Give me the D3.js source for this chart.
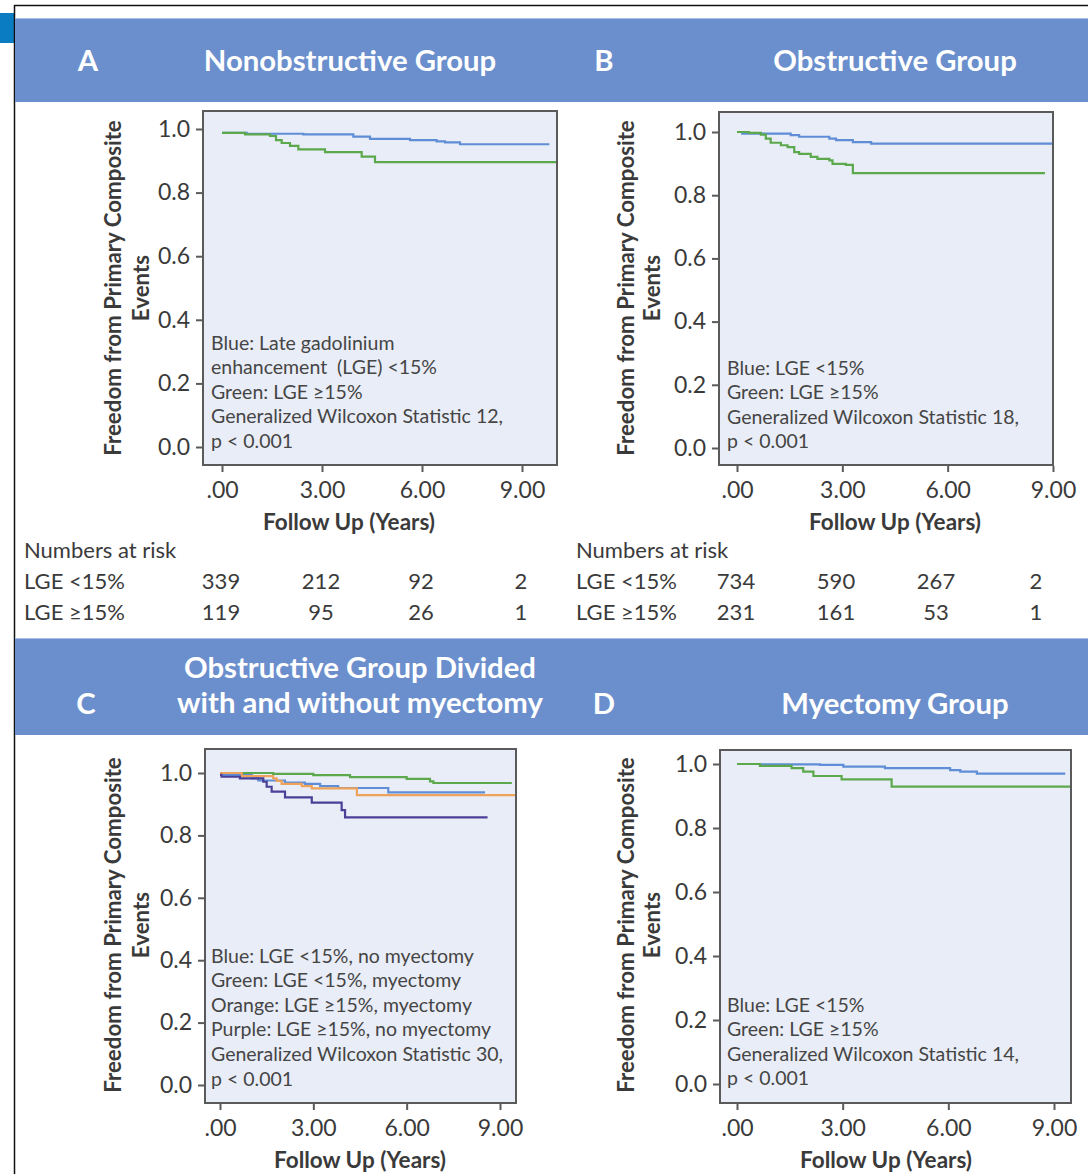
<!DOCTYPE html>
<html>
<head>
<meta charset="utf-8">
<script src="https://cdn.jsdelivr.net/npm/d3@7"></script>
<style>
  html, body { margin: 0; padding: 0; background: #fff; }
  svg { display: block; }
  text { font-family: Lato, "Noto Sans", sans-serif; white-space: pre; }
</style>
</head>
<body>
<svg id="chart" width="1088" height="1174"></svg>
<script>
// ---------------- DATA ----------------
const xTicks = [0, 3, 6, 9];
const yTicks = [0, 0.2, 0.4, 0.6, 0.8, 1.0];

// Panel A: Nonobstructive group
const aBlueT  = [0, 0.74, 2.44, 3.94, 4.44, 5.64, 6.44, 6.69, 7.14, 9.82];
const aBlueS  = [0.988, 0.985, 0.983, 0.976, 0.969, 0.965, 0.961, 0.958, 0.952, 0.952];
const aGreenT = [0, 0.69, 1.44, 1.62, 1.79, 2.04, 2.29, 3.09, 4.19, 4.59, 10.05];
const aGreenS = [0.988, 0.983, 0.978, 0.965, 0.956, 0.947, 0.936, 0.927, 0.913, 0.896, 0.896];

// Panel B: Obstructive group
const bBlueT  = [0, 0.15, 1.53, 1.77, 2.63, 2.82, 3.3, 3.82, 9.0];
const bBlueS  = [1.0, 0.995, 0.99, 0.985, 0.979, 0.974, 0.968, 0.963, 0.963];
const bGreenT = [0, 0.34, 0.68, 0.82, 0.96, 1.25, 1.44, 1.63, 1.77, 2.1, 2.29, 2.63, 2.72, 3.1, 3.3, 8.77];
const bGreenS = [1.0, 0.997, 0.992, 0.979, 0.966, 0.958, 0.952, 0.936, 0.931, 0.921, 0.915, 0.910, 0.899, 0.896, 0.870, 0.870];

// Panel C: Obstructive group with/without myectomy
const cGreenT  = [0, 1.71, 3.0, 4.18, 6.0, 6.75, 6.86, 9.38];
const cGreenS  = [1.0, 0.997, 0.993, 0.987, 0.981, 0.973, 0.968, 0.968];
const cOrangeT = [0, 0.70, 1.71, 1.82, 1.98, 2.63, 2.95, 4.40, 9.5];
const cOrangeS = [1.0, 0.990, 0.983, 0.975, 0.965, 0.958, 0.951, 0.929, 0.929];
const cBlueT   = [0, 0.11, 1.02, 1.23, 2.09, 2.73, 3.22, 3.80, 5.41, 8.52];
const cBlueS   = [1.0, 0.993, 0.983, 0.976, 0.969, 0.965, 0.958, 0.952, 0.938, 0.938];
const cPurpleT = [0, 0.05, 0.64, 1.39, 1.50, 1.66, 2.09, 2.95, 3.91, 4.02, 8.6];
const cPurpleS = [0.994, 0.988, 0.983, 0.972, 0.956, 0.940, 0.922, 0.905, 0.881, 0.858, 0.858];

// Panel D: Myectomy group
const dBlueT  = [0, 0.65, 2.36, 3.02, 4.20, 6.05, 6.34, 6.81, 9.32];
const dBlueS  = [1.0, 0.999, 0.997, 0.992, 0.987, 0.981, 0.976, 0.970, 0.970];
const dGreenT = [0, 0.65, 1.55, 1.88, 2.17, 2.97, 4.39, 9.48];
const dGreenS = [1.0, 0.994, 0.987, 0.976, 0.9625, 0.952, 0.929, 0.929];

// Numbers at risk
const riskLabels = ["LGE <15%", "LGE \u226515%"];
const riskALow  = [339, 212, 92, 2];
const riskAHigh = [119, 95, 26, 1];
const riskBLow  = [734, 590, 267, 2];
const riskBHigh = [231, 161, 53, 1];

// Texts
const headerTop = [
  {letter: "A", title: ["Nonobstructive Group"]},
  {letter: "B", title: ["Obstructive Group"]}
];
const headerBottom = [
  {letter: "C", title: ["Obstructive Group Divided", "with and without myectomy"]},
  {letter: "D", title: ["Myectomy Group"]}
];
const yTitle = ["Freedom from Primary Composite", "Events"];
const xTitle = "Follow Up (Years)";
const noteA = ["Blue: Late gadolinium", "enhancement  (LGE) <15%", "Green: LGE \u226515%", "Generalized Wilcoxon Statistic 12,", "p < 0.001"];
const noteB = ["Blue: LGE <15%", "Green: LGE \u226515%", "Generalized Wilcoxon Statistic 18,", "p < 0.001"];
const noteC = ["Blue: LGE <15%, no myectomy", "Green: LGE <15%, myectomy", "Orange: LGE \u226515%, myectomy", "Purple: LGE \u226515%, no myectomy", "Generalized Wilcoxon Statistic 30,", "p < 0.001"];
const noteD = ["Blue: LGE <15%", "Green: LGE \u226515%", "Generalized Wilcoxon Statistic 14,", "p < 0.001"];

// ---------------- STYLE ----------------
const COL = {
  blue: "#5f8ed6", green: "#5ca84c", orange: "#eea25a", purple: "#4b3f98",
  band: "#6b8fcd", plotBg: "#e9edf7", frame: "#5a5a5a", text: "#3a3a3a"
};

const svg = d3.select("#chart");

// outer frame & marker
svg.append("rect").attr("x", 0).attr("y", 13).attr("width", 14).attr("height", 30).attr("fill", "#0a7dc2");
svg.append("path").attr("d", "M14.5,1174 V5.5 H1088").attr("fill", "none").attr("stroke", "#111").attr("stroke-width", 1.5);

// header bands
function band(y, h) {
  svg.append("rect").attr("x", 15).attr("y", y).attr("width", 1073).attr("height", h).attr("fill", COL.band);
  svg.append("line").attr("x1", 15).attr("x2", 1088).attr("y1", y + 0.5).attr("y2", y + 0.5).attr("stroke", "#a9c0e6").attr("stroke-width", 1);
}
band(18, 84);
band(638, 97);

function headerText(x, y, str) {
  svg.append("text").attr("x", x).attr("y", y).attr("text-anchor", "middle")
    .attr("dominant-baseline", "central").attr("fill", "#fff")
    .attr("font-size", 29.3).attr("font-weight", 700).text(str);
}
headerText(88, 59, headerTop[0].letter);
headerText(350, 59, headerTop[0].title[0]);
headerText(604, 59, headerTop[1].letter);
headerText(895, 59, headerTop[1].title[0]);
headerText(86, 702, headerBottom[0].letter);
headerText(360, 666, headerBottom[0].title[0]);
headerText(360, 701, headerBottom[0].title[1]);
headerText(604, 702, headerBottom[1].letter);
headerText(895, 702, headerBottom[1].title[0]);

// ---------------- PANELS ----------------
const panels = [
  { frame: [203, 111, 557, 465], x0: 222, x9: 522, y0: 447, y1: 129,
    series: [[aBlueT, aBlueS, COL.blue], [aGreenT, aGreenS, COL.green]],
    note: noteA, noteX: 211, noteY: 342, yt: [112, 140], ytC: 288, xtY: 521, xtX: 349 },
  { frame: [719, 112, 1053, 465], x0: 737, x9: 1053, y0: 448, y1: 132,
    series: [[bBlueT, bBlueS, COL.blue], [bGreenT, bGreenS, COL.green]],
    note: noteB, noteX: 727, noteY: 367, yt: [625, 651], ytC: 288, xtY: 521, xtX: 895 },
  { frame: [205, 749, 516, 1103], x0: 220, x9: 500, y0: 1085, y1: 773,
    series: [[cGreenT, cGreenS, COL.green], [cBlueT, cBlueS, COL.blue], [cOrangeT, cOrangeS, COL.orange], [cPurpleT, cPurpleS, COL.purple]],
    note: noteC, noteX: 211, noteY: 955, yt: [112, 140], ytC: 925, xtY: 1159, xtX: 360 },
  { frame: [720, 750, 1071, 1103], x0: 737, x9: 1054, y0: 1084, y1: 764,
    series: [[dBlueT, dBlueS, COL.blue], [dGreenT, dGreenS, COL.green]],
    note: noteD, noteX: 727, noteY: 1004, yt: [625, 651], ytC: 925, xtY: 1159, xtX: 886 }
];

panels.forEach(p => {
  const [fx0, fy0, fx1, fy1] = p.frame;
  const x = d3.scaleLinear().domain([0, 9]).range([p.x0, p.x9]);
  const y = d3.scaleLinear().domain([0, 1]).range([p.y0, p.y1]);
  const g = svg.append("g");

  g.append("rect").attr("x", fx0).attr("y", fy0).attr("width", fx1 - fx0).attr("height", fy1 - fy0)
    .attr("fill", COL.plotBg);

  // curves
  const line = d3.line().x(d => x(d[0])).y(d => y(d[1])).curve(d3.curveStepAfter);
  p.series.forEach(([T, S, c]) => {
    g.append("path").datum(T.map((t, i) => [t, S[i]])).attr("d", line)
      .attr("fill", "none").attr("stroke", c).attr("stroke-width", 2.2);
  });

  g.append("rect").attr("x", fx0).attr("y", fy0).attr("width", fx1 - fx0).attr("height", fy1 - fy0)
    .attr("fill", "none").attr("stroke", COL.frame).attr("stroke-width", 2);

  // axes
  const ya = g.append("g").attr("transform", `translate(${fx0 - 1},0)`)
    .call(d3.axisLeft(y).tickValues(yTicks).tickFormat(d => d.toFixed(1)).tickSize(6).tickPadding(6));
  const xa = g.append("g").attr("transform", `translate(0,${fy1 + 1})`)
    .call(d3.axisBottom(x).tickValues(xTicks).tickFormat(d => d === 0 ? ".00" : d.toFixed(2)).tickSize(6).tickPadding(10));
  [ya, xa].forEach(a => {
    a.select(".domain").remove();
    a.selectAll(".tick line").attr("stroke", COL.frame).attr("stroke-width", 2);
    a.selectAll(".tick text").attr("fill", COL.text).attr("font-size", 23).attr("font-family", "Lato, sans-serif");
  });

  // axis titles
  p.yt.forEach((xx, i) => {
    g.append("text").attr("transform", `translate(${xx},${p.ytC}) rotate(-90)`)
      .attr("text-anchor", "middle").attr("dominant-baseline", "central")
      .attr("fill", COL.text).attr("font-size", 22.3).attr("font-weight", 700).text(yTitle[i]);
  });
  g.append("text").attr("x", p.xtX).attr("y", p.xtY).attr("text-anchor", "middle")
    .attr("dominant-baseline", "central").attr("fill", COL.text)
    .attr("font-size", 22.5).attr("font-weight", 700).text(xTitle);

  // note
  p.note.forEach((s, i) => {
    g.append("text").attr("x", p.noteX).attr("y", p.noteY + i * 24.6).attr("dominant-baseline", "central")
      .attr("fill", "#454545").attr("font-size", 19.5).text(s);
  });
});

// ---------------- NUMBERS AT RISK ----------------
function riskTable(labelX, xr, low, high) {
  const x = d3.scaleLinear().domain([0, 9]).range(xr);
  const g = svg.append("g").attr("fill", COL.text).attr("font-size", 22);
  g.append("text").attr("x", labelX).attr("y", 549).attr("dominant-baseline", "central").text("Numbers at risk");
  [low, high].forEach((row, r) => {
    const yy = 580 + r * 31;
    g.append("text").attr("x", labelX).attr("y", yy).attr("dominant-baseline", "central").text(riskLabels[r]);
    g.selectAll(null).data(row).enter().append("text")
      .attr("x", (d, i) => x(xTicks[i])).attr("y", yy).attr("text-anchor", "middle")
      .attr("dominant-baseline", "central").text(d => d);
  });
}
riskTable(24, [221, 521], riskALow, riskAHigh);
riskTable(576, [736, 1036], riskBLow, riskBHigh);
</script>
</body>
</html>
